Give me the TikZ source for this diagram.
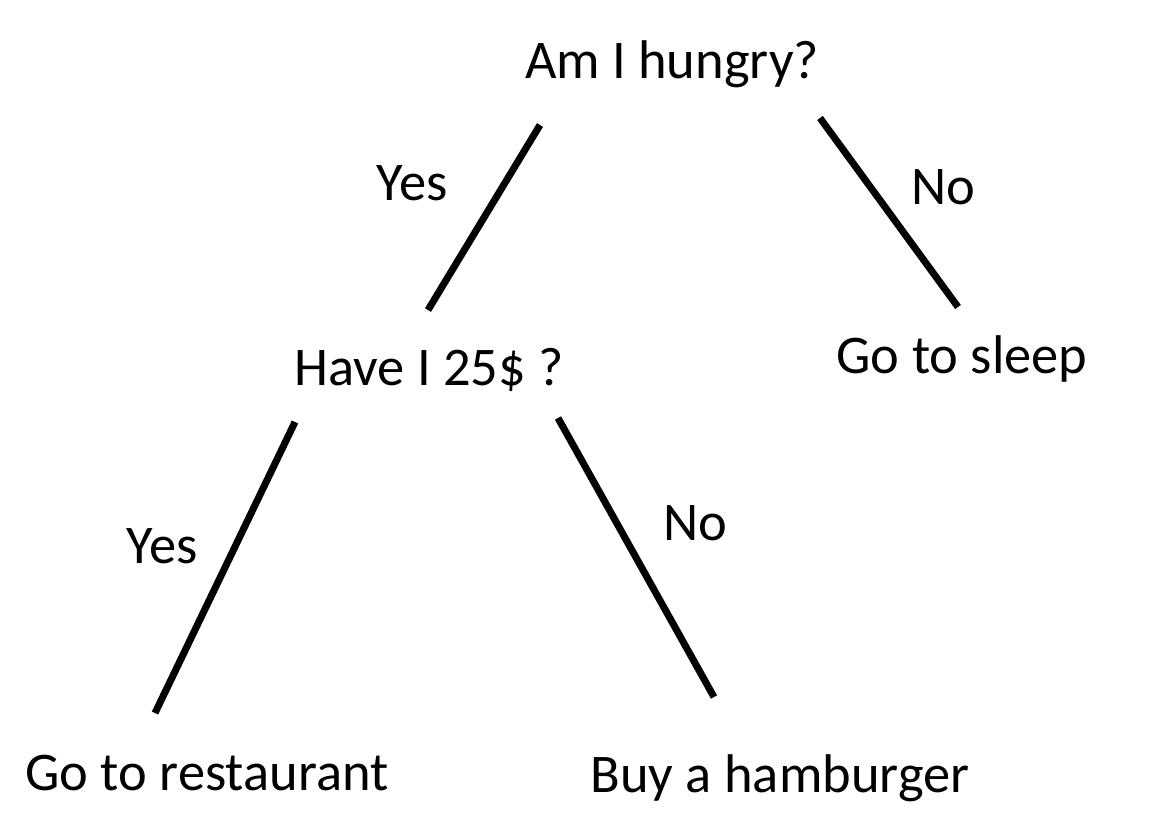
\documentclass[tikz,border=0pt]{standalone}
\usepackage{fontspec}
\setmainfont{Carlito}
\usetikzlibrary{positioning}

\tikzset{
    question/.style={anchor=base, font=\fontsize{31}{36}\selectfont, inner sep=0pt},
    answer/.style={anchor=base, font=\fontsize{31}{36}\selectfont, inner sep=0pt},
    branch/.style={line width=4pt, black}
}

\begin{document}
\begin{tikzpicture}[x=0.02cm, y=-0.02cm]

            \useasboundingbox (0,0) rectangle (1174,816);

            % questions and outcomes
            \node[question] (hungry)     at (672,78)  {Am I hungry?};
            \node[question] (money)      at (429,385) {Have I 25\$ ?};
            \node[question] (sleep)      at (962,373) {Go to sleep};
            \node[question] (restaurant) at (207,790) {Go to restaurant};
            \node[question] (hamburger)  at (780,792) {Buy a hamburger};

            % line ends
            \coordinate (hungry-yes) at (540,125);
            \coordinate (hungry-no)  at (820,118);
            \coordinate (money-in)   at (428,310);
            \coordinate (sleep-in)   at (958,307);
            \coordinate (money-yes)  at (295,422);
            \coordinate (money-no)   at (558,418);
            \coordinate (rest-in)    at (155,713);
            \coordinate (ham-in)     at (714,697);

            \draw[branch] (hungry-yes) -- (money-in);
            \draw[branch] (hungry-no)  -- (sleep-in);
            \draw[branch] (money-yes)  -- (rest-in);
            \draw[branch] (money-no)   -- (ham-in);

            % answers
            \node[answer] (yes1) at (412,200) {Yes};
            \node[answer] (no1)  at (943,204) {No};
            \node[answer] (yes2) at (162,563) {Yes};
            \node[answer] (no2)  at (695,540) {No};

        \end{tikzpicture}
\end{document}
